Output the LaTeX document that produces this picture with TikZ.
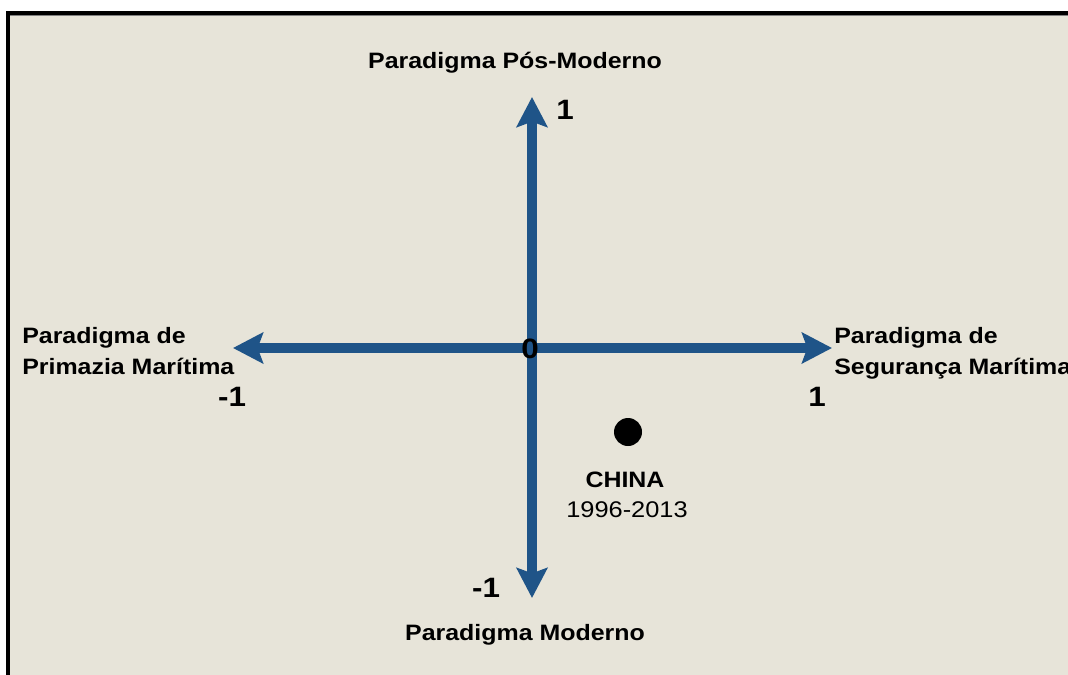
\documentclass[tikz,border=0pt]{standalone}
\usepackage{fontspec}
\setmainfont{Liberation Sans}[FakeStretch=1.12]
\usepackage{tikz}
\usepackage{xcolor}
\usetikzlibrary{arrows.meta,positioning}
\definecolor{fundo}{HTML}{E7E4D9}
\definecolor{eixo}{RGB}{31,84,136}
\tikzset{
    eixo/.style={line width=7.3pt, color=eixo,
        {Stealth[length=22.5pt,width=23pt,inset=4pt]}-{Stealth[length=22.5pt,width=23pt,inset=4pt]}},
    rotulo/.style={inner sep=0pt, font=\fontsize{16.7}{23.25}\selectfont\bfseries},
    numero/.style={inner sep=0pt, font=\fontsize{21}{24}\selectfont\bfseries}
}

\begin{document}
\begin{tikzpicture}[x=0.75pt,y=-0.75pt]
                                \useasboundingbox (0,0) rectangle (1068,675);
                                \fill[white] (0,0) rectangle (1068,675);
                                \fill[fundo] (7,13) rectangle (1068,675);
                                \draw[gray, line width=0.8pt] (9,15.5) -- (1068,15.5);
                                \draw[black, line width=3pt] (7.5,675) -- (7.5,13) -- (1068,13);
                                % extremidades dos eixos
                                \coordinate (topo) at (532,97);
                                \coordinate (base) at (532,598);
                                \coordinate (esq) at (233,348);
                                \coordinate (dir) at (832,348);
                                \draw[eixo] (esq) -- (dir);
                                \draw[eixo] (topo) -- (base);
                                % rotulos
                                \node[rotulo, anchor=base] (pos) at (515,68) {Paradigma Pós-Moderno};
                                \node[rotulo, anchor=base] (mod) at (525,640) {Paradigma Moderno};
                                \node[rotulo, anchor=base west, align=left] (prim) at (22,374) {Paradigma de\\Primazia Marítima};
                                \node[rotulo, anchor=base west, align=left] (seg) at (834,374) {Paradigma de\\Segurança Marítima};
                                \node[numero] (n1) at (565,110) {1};
                                \node[numero] (n0) at (530,349) {0};
                                \node[numero] (nm1) at (232,397) {-1};
                                \node[numero] (np1) at (817,397) {1};
                                \node[numero] (nb1) at (486,588) {-1};
                                % ponto
                                \fill (628,432) circle[radius=14] coordinate (china);
                                \node[rotulo, anchor=base] (cn) at (625,487) {CHINA};
                                \node[inner sep=0pt, anchor=base, font=\fontsize{17}{20}\selectfont] (ano) at (627,517) {1996-2013};
                            \end{tikzpicture}
\end{document}
